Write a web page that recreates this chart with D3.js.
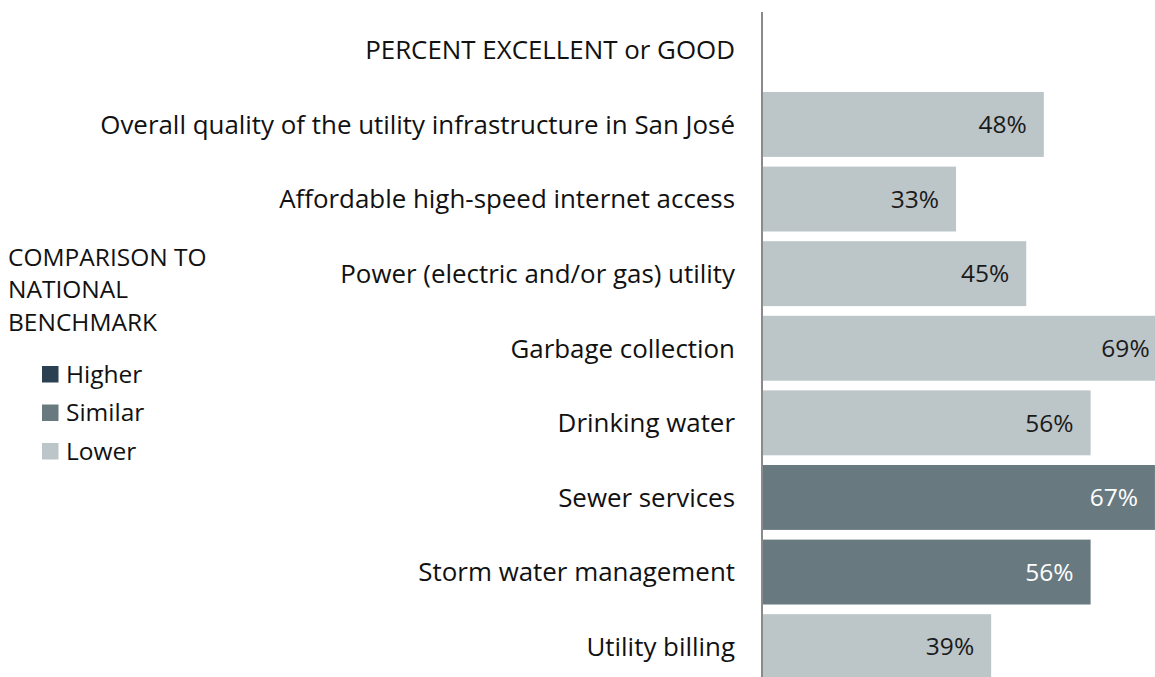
<!DOCTYPE html>
<html><head><meta charset="utf-8">
<script src="https://cdn.jsdelivr.net/npm/d3@7"></script>
<style>html,body{margin:0;padding:0;background:#fff;overflow:hidden}svg{display:block}</style>
</head><body>
<svg id="c" width="1155" height="677"></svg>
<script>
const categories = [
  "Overall quality of the utility infrastructure in San José",
  "Affordable high-speed internet access",
  "Power (electric and/or gas) utility",
  "Garbage collection",
  "Drinking water",
  "Sewer services",
  "Storm water management",
  "Utility billing"
];
const values = [48, 33, 45, 69, 56, 67, 56, 39];
const comparison = ["Lower","Lower","Lower","Lower","Lower","Similar","Similar","Lower"];
const legendItems = ["Higher","Similar","Lower"];
const legendColors = ["#2B4050","#687A80","#BCC5C8"];
const header = "PERCENT EXCELLENT or GOOD";
const legendTitle = ["COMPARISON TO","NATIONAL","BENCHMARK"];

const svg = d3.select("#c");
const font = "'Open Sans', Lato, sans-serif";
const color = d3.scaleOrdinal().domain(legendItems).range(legendColors);
const textColor = d3.scaleOrdinal().domain(legendItems).range(["#ffffff","#ffffff","#1a1a1a"]);

const rows = [header, ...categories];
const step = 74.6, pin = 0.13;
const y = d3.scaleBand().domain(rows).range([17.4, 17.4 + step*(rows.length - pin)]).paddingInner(pin).paddingOuter(0);
const x = d3.scaleLinear().domain([0, 100]).range([763, 763 + 585]);

const data = categories.map((c,i)=>({c, v: values[i], k: comparison[i]}));

svg.selectAll("rect.bar").data(data).join("rect")
  .attr("class","bar")
  .attr("x", x(0))
  .attr("y", d=>y(d.c))
  .attr("width", d=>x(d.v)-x(0))
  .attr("height", y.bandwidth())
  .attr("fill", d=>color(d.k));

svg.selectAll("text.val").data(data).join("text")
  .attr("class","val")
  .attr("x", d=>x(d.v)-17)
  .attr("y", d=>y(d.c)+y.bandwidth()/2)
  .attr("dy","0.36em")
  .attr("text-anchor","end")
  .attr("font-family", font).attr("font-size", 24.5)
  .attr("fill", d=>textColor(d.k))
  .text(d=>d.v+"%");

// category labels
svg.selectAll("text.cat").data(rows).join("text")
  .attr("class","cat")
  .attr("x", 735)
  .attr("y", d=>y(d)+y.bandwidth()/2)
  .attr("dy","0.36em")
  .attr("text-anchor","end")
  .attr("font-family", font).attr("font-size", 25.9)
  .attr("fill","#111")
  .text(d=>d);

// axis line
svg.append("line").attr("x1",762).attr("x2",762).attr("y1",12).attr("y2",677)
  .attr("stroke","#8a8a8a").attr("stroke-width",2);

// legend
const lfs = 24.5;
svg.selectAll("text.lt").data(legendTitle).join("text")
  .attr("class","lt")
  .attr("x", 8).attr("y",(d,i)=>257+i*32.5).attr("dy","0.36em")
  .attr("font-family", font).attr("font-size", lfs).attr("fill","#111")
  .text(d=>d);
const lg = svg.selectAll("g.lg").data(legendItems).join("g").attr("class","lg")
  .attr("transform",(d,i)=>`translate(42,${374+i*38.5})`);
lg.append("rect").attr("x",0).attr("y",-8).attr("width",16.5).attr("height",16.5).attr("fill",d=>color(d));
lg.append("text").attr("x",24).attr("y",0).attr("dy","0.36em")
  .attr("font-family", font).attr("font-size", lfs).attr("fill","#111").text(d=>d);
</script>
</body></html>
